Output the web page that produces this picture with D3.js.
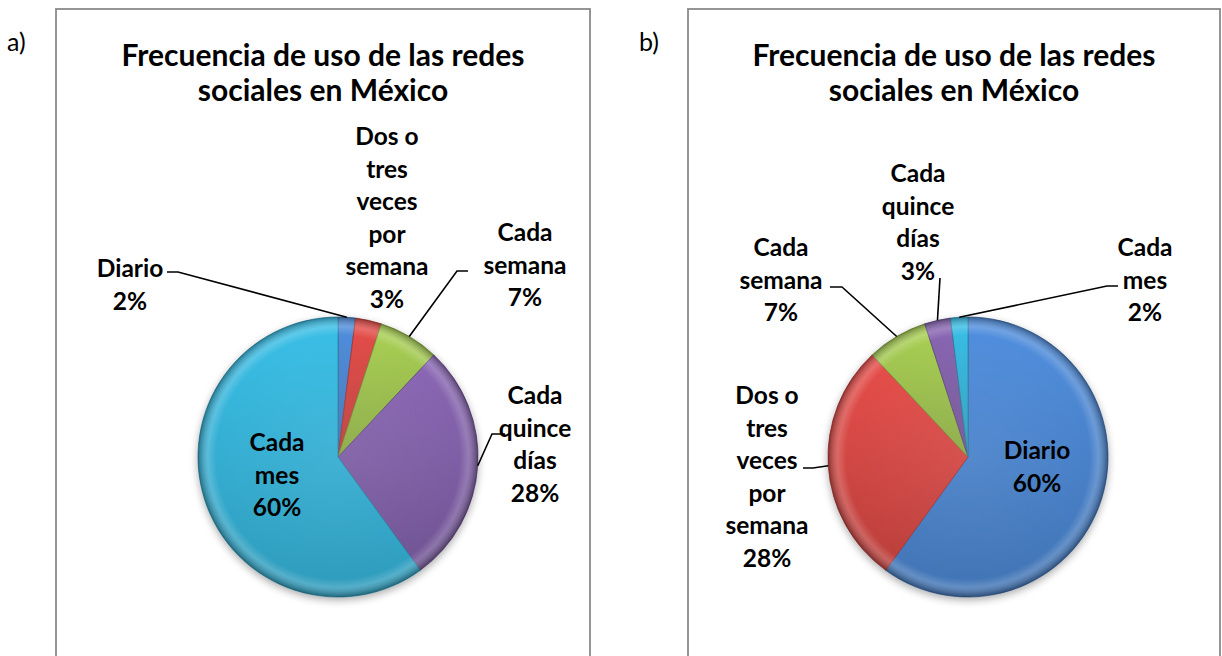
<!DOCTYPE html>
<html>
<head>
<meta charset="utf-8">
<script src="https://cdn.jsdelivr.net/npm/d3@7"></script>
<style>
  body { margin: 0; background: #fff; }
  svg { display: block; font-family: Lato, "Noto Sans", sans-serif; }
</style>
</head>
<body>
<svg id="chart"></svg>
<script>
// datos
const categorias = ["Diario", "Dos o tres veces por semana", "Cada semana", "Cada quince días", "Cada mes"];
const etiquetas = [["Diario"], ["Dos o", "tres", "veces", "por", "semana"], ["Cada", "semana"], ["Cada", "quince", "días"], ["Cada", "mes"]];
const valoresA = [2, 3, 7, 28, 60];
const valoresB = [60, 28, 7, 3, 2];
const ordenA = [0, 1, 2, 3, 4];   // orden de las categorias en la grafica a
const ordenB = [0, 1, 2, 3, 4];
const titulo = ["Frecuencia de uso de las redes", "sociales en México"];

const colores = ["#4a83cc", "#d34744", "#9cc04e", "#7f5fa6", "#35b0d4"];

class PieChart {

    constructor( config, data ) {
        this.config = {
            parent: config.parent,
            letter: config.letter,
            box: config.box,
            center: config.center,
            radius: config.radius || 140,
            labels: config.labels
        }
        this.data = data;
        this.init();
    }

    init() {
        let self = this;
        self.g = self.config.parent.append('g');

        self.pie = d3.pie().sort(null).value(d => d.value);
        self.arc = d3.arc().innerRadius(0).outerRadius(self.config.radius);
        self.edge = d3.arc().innerRadius(self.config.radius).outerRadius(self.config.radius);
        self.color = d3.scaleOrdinal().domain(categorias).range(colores);
    }

    render() {
        let self = this;
        const b = self.config.box;
        const [cx, cy] = self.config.center;
        const r = self.config.radius;

        self.g.append('text')
            .attr('x', b.x - 49).attr('y', 51)
            .attr('font-size', 25)
            .text(self.config.letter);

        self.g.append('rect')
            .attr('x', b.x).attr('y', b.y)
            .attr('width', b.w).attr('height', 700)
            .attr('fill', '#fff')
            .attr('stroke', '#8a8a8a')
            .attr('stroke-width', 1.8);

        self.g.selectAll('.titulo')
            .data(titulo)
            .join('text')
            .attr('x', b.x + b.w / 2)
            .attr('y', (d, i) => 66 + i * 35)
            .attr('text-anchor', 'middle')
            .attr('font-size', 30)
            .attr('font-weight', 'bold')
            .text(d => d);

        const pg = self.g.append('g').attr('transform', `translate(${cx},${cy})`);

        pg.append('circle')
            .attr('r', r)
            .attr('cy', 3)
            .attr('fill', '#000')
            .attr('opacity', 0.35)
            .attr('filter', 'url(#sombra)');

        const arcs = self.pie(self.data);

        pg.selectAll('.slice')
            .data(arcs)
            .join('path')
            .attr('d', self.arc)
            .attr('fill', d => `url(#grad-${categorias.indexOf(d.data.cat)})`)
            .attr('stroke', d => d3.color(self.color(d.data.cat)).darker(0.8))
            .attr('stroke-width', 0.8);

        pg.selectAll('.bisel')
            .data(arcs)
            .join('path')
            .attr('d', self.arc)
            .attr('fill', 'url(#bisel)');

        // etiquetas
        arcs.forEach((a, i) => {
            const L = self.config.labels[i];
            const lines = etiquetas[categorias.indexOf(a.data.cat)].concat([a.data.value + '%']);
            const t = pg.append('text')
                .attr('text-anchor', 'middle')
                .attr('font-size', 24.5)
                .attr('font-weight', 'bold')
                .attr('fill', '#000');
            lines.forEach((s, k) => {
                t.append('tspan')
                    .attr('x', L.dx)
                    .attr('y', L.dy + 9 + k * 32.5)
                    .text(s);
            });
            if (L.leader) {
                const p = self.edge.centroid(a);
                pg.append('polyline')
                    .attr('points', L.leader.concat([p]).map(q => q.join(',')).join(' '))
                    .attr('fill', 'none')
                    .attr('stroke', '#000')
                    .attr('stroke-width', 1.6);
            }
        });
    }
}

const svg = d3.select('#chart').attr('width', 1222).attr('height', 656);
const defs = svg.append('defs');

const sh = defs.append('filter').attr('id', 'sombra')
    .attr('x', '-20%').attr('y', '-20%').attr('width', '140%').attr('height', '140%');
sh.append('feGaussianBlur').attr('stdDeviation', 4);

colores.forEach((c, i) => {
    const lg = defs.append('linearGradient').attr('id', `grad-${i}`)
        .attr('x1', 0).attr('y1', 0).attr('x2', 0).attr('y2', 1);
    lg.append('stop').attr('offset', '0%').attr('stop-color', d3.color(c).brighter(0.25));
    lg.append('stop').attr('offset', '100%').attr('stop-color', d3.color(c).darker(0.35));
});

const bev = defs.append('radialGradient').attr('id', 'bisel')
    .attr('gradientUnits', 'userSpaceOnUse')
    .attr('cx', 0).attr('cy', 0).attr('r', 140);
bev.append('stop').attr('offset', '0%').attr('stop-color', '#fff').attr('stop-opacity', 0.06);
bev.append('stop').attr('offset', '87%').attr('stop-color', '#fff').attr('stop-opacity', 0);
bev.append('stop').attr('offset', '93%').attr('stop-color', '#fff').attr('stop-opacity', 0.18);
bev.append('stop').attr('offset', '100%').attr('stop-color', '#000').attr('stop-opacity', 0.35);

const dataA = ordenA.map((k, i) => ({cat: categorias[k], value: valoresA[i]}));
const dataB = ordenB.map((k, i) => ({cat: categorias[k], value: valoresB[i]}));

const chartA = new PieChart({
    parent: svg, letter: 'a)',
    box: {x: 56, y: 9, w: 534},
    center: [338, 457],
    labels: [
        {dx: -208, dy: -189, leader: [[-171, -185], [-160, -185]]},
        {dx: 49, dy: -321, leader: null},
        {dx: 187, dy: -225, leader: [[130, -186], [119, -186]]},
        {dx: 197, dy: -62, leader: [[167, -23], [154, -23]]},
        {dx: -61, dy: -15, leader: null}
    ]
}, dataA);
chartA.render();

const chartB = new PieChart({
    parent: svg, letter: 'b)',
    box: {x: 688, y: 9, w: 532},
    center: [968, 457],
    labels: [
        {dx: 69, dy: -7, leader: null},
        {dx: -201, dy: -62, leader: [[-165, 11], [-155, 11]]},
        {dx: -187, dy: -210, leader: [[-138, -170], [-126, -170]]},
        {dx: -50, dy: -284, leader: [[-28, -179]]},
        {dx: 177, dy: -210, leader: [[150, -171], [139, -171]]}
    ]
}, dataB);
chartB.render();
</script>
</body>
</html>
